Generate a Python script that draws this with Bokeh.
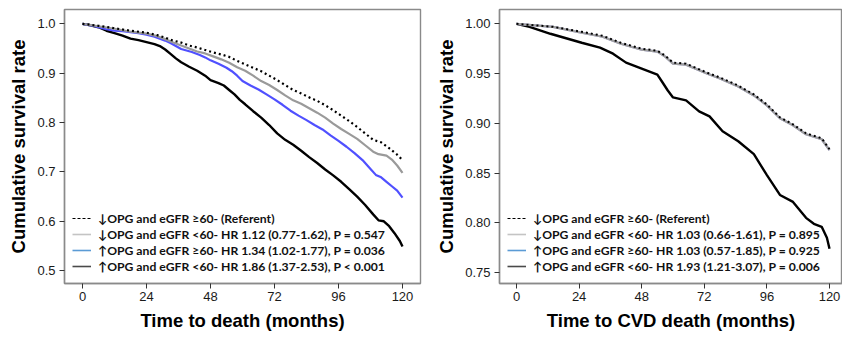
from bokeh.plotting import figure
from bokeh.layouts import row
from bokeh.models import Legend, LegendItem, FixedTicker, PrintfTickFormatter, Range1d
from bokeh.embed import file_html
from bokeh.resources import INLINE

NAN = float("nan")

# ---------------- data: left panel (all-cause death) ----------------
ref_t = [0, 6, 12, 18, 24, 28, 31, 34, 37, 40, 43, 46, 49, 52, 55, 58, 61, 64, 67, 70, 73, 76, 79, 82, 85, 88, 91, 94, 97, 100, 103, 106, 109, 112, 115, 118, 120]
ref_s = [1.0, 0.996, 0.991, 0.986, 0.982, 0.977, 0.972, 0.966, 0.962, 0.956, 0.952, 0.947, 0.942, 0.938, 0.933, 0.925, 0.918, 0.911, 0.904, 0.895, 0.886, 0.876, 0.866, 0.859, 0.851, 0.844, 0.835, 0.825, 0.814, 0.803, 0.791, 0.778, 0.765, 0.760, 0.748, 0.735, 0.724]

lo60_t = [0, 6, 12, 18, 24, 28, 31, 34, 37, 40, 43, 46, 49, 52, 55, 58, 61, 64, 67, 70, 73, 76, 79, 82, 85, 88, 91, 94, 97, 100, 103, 106, 109, 111, 114, 116, 118, 120]
lo60_s = [1.0, 0.995, 0.990, 0.984, 0.980, 0.975, 0.969, 0.962, 0.956, 0.950, 0.944, 0.940, 0.934, 0.928, 0.921, 0.912, 0.905, 0.895, 0.884, 0.876, 0.866, 0.855, 0.845, 0.838, 0.829, 0.820, 0.810, 0.798, 0.787, 0.777, 0.767, 0.754, 0.741, 0.736, 0.733, 0.725, 0.713, 0.698]

hi_ge60_t = [0, 3, 6, 9, 12, 15, 18, 21, 24, 27, 29, 31, 33, 35, 37, 39, 41, 44, 46, 48, 51, 54, 56, 58, 60, 63, 66, 69, 72, 75, 78, 81, 84, 87, 90, 93, 96, 99, 102, 105, 108, 110, 112, 114, 116, 118, 120]
hi_ge60_s = [1.0, 0.997, 0.993, 0.989, 0.986, 0.985, 0.983, 0.981, 0.978, 0.974, 0.970, 0.966, 0.961, 0.955, 0.949, 0.946, 0.943, 0.937, 0.932, 0.926, 0.919, 0.911, 0.904, 0.895, 0.884, 0.875, 0.867, 0.857, 0.847, 0.836, 0.824, 0.814, 0.805, 0.795, 0.786, 0.774, 0.763, 0.751, 0.738, 0.724, 0.706, 0.694, 0.689, 0.680, 0.671, 0.662, 0.648]

hi_lo60_t = [0, 3, 6, 9, 12, 15, 18, 21, 24, 27, 29, 31, 33, 35, 37, 40, 43, 46, 48, 51, 53, 55, 57, 59, 61, 64, 67, 70, 73, 76, 79, 82, 85, 88, 91, 94, 97, 100, 103, 106, 109, 111, 113, 115, 117, 119, 120]
hi_lo60_s = [1.0, 0.997, 0.993, 0.986, 0.981, 0.976, 0.970, 0.967, 0.963, 0.959, 0.955, 0.948, 0.939, 0.930, 0.922, 0.913, 0.905, 0.895, 0.886, 0.880, 0.875, 0.866, 0.857, 0.846, 0.837, 0.823, 0.810, 0.795, 0.778, 0.765, 0.755, 0.743, 0.730, 0.718, 0.705, 0.693, 0.680, 0.665, 0.650, 0.633, 0.614, 0.602, 0.600, 0.590, 0.576, 0.560, 0.549]

# ---------------- data: right panel (CVD death) ----------------
cvd_ref_t = [0, 14, 25, 33, 40, 48, 54, 57, 60, 65, 73, 78, 85, 91, 96, 101, 106, 111, 117, 120]
cvd_ref_s = [1.0, 0.997, 0.992, 0.988, 0.981, 0.975, 0.973, 0.968, 0.961, 0.960, 0.951, 0.946, 0.938, 0.929, 0.919, 0.906, 0.899, 0.890, 0.885, 0.874]
cvd_lo60_s = [1.0, 0.997, 0.991, 0.987, 0.980, 0.974, 0.972, 0.967, 0.960, 0.959, 0.950, 0.945, 0.937, 0.928, 0.918, 0.905, 0.898, 0.889, 0.884, 0.873]
cvd_hige60_s = [1.0, 0.997, 0.991, 0.987, 0.980, 0.974, 0.972, 0.967, 0.960, 0.959, 0.950, 0.945, 0.937, 0.928, 0.918, 0.905, 0.898, 0.889, 0.884, 0.873]

cvd_hilo_t = [0, 5, 13, 17, 25, 32, 37, 42, 48, 54, 56, 58, 60, 65, 70, 74, 79, 85, 91, 96, 101, 106, 111, 114, 117, 119, 120]
cvd_hilo_s = [1.0, 0.997, 0.990, 0.987, 0.981, 0.976, 0.970, 0.961, 0.955, 0.949, 0.941, 0.933, 0.926, 0.923, 0.912, 0.907, 0.892, 0.882, 0.869, 0.848, 0.828, 0.821, 0.805, 0.799, 0.796, 0.785, 0.774]

x_ticks = [0, 24, 48, 72, 96, 120]
y_ticks_left = [0.5, 0.6, 0.7, 0.8, 0.9, 1.0]
y_ticks_right = [0.75, 0.80, 0.85, 0.90, 0.95, 1.00]

legend_left = [
    "\u2193OPG and eGFR \u226560- (Referent)",
    "\u2193OPG and eGFR <60- HR 1.12 (0.77-1.62), P = 0.547",
    "\u2191OPG and eGFR \u226560- HR 1.34 (1.02-1.77), P = 0.036",
    "\u2191OPG and eGFR <60- HR 1.86 (1.37-2.53), P < 0.001",
]
legend_right = [
    "\u2193OPG and eGFR \u226560- (Referent)",
    "\u2193OPG and eGFR <60- HR 1.03 (0.66-1.61), P = 0.895",
    "\u2191OPG and eGFR \u226560- HR 1.03 (0.57-1.85), P = 0.925",
    "\u2191OPG and eGFR <60- HR 1.93 (1.21-3.07), P = 0.006",
]

AX = "#8a8a8a"
LEG_FONT = "Lato"


def make_fig(width, border_left, border_right, x_range, y_range, yticks, yfmt, xlabel):
    p = figure(width=width, height=337, output_backend="svg", toolbar_location=None,
               x_range=Range1d(*x_range), y_range=Range1d(*y_range),
               min_border_left=border_left, min_border_right=border_right,
               min_border_top=9, min_border_bottom=54)
    p.grid.visible = False
    p.outline_line_color = AX
    p.outline_line_width = 1.4
    p.background_fill_color = "white"
    p.border_fill_color = "white"
    for ax in (p.xaxis[0], p.yaxis[0]):
        ax.axis_line_color = AX
        ax.axis_line_width = 1.4
        ax.major_tick_line_color = "#333333"
        ax.major_tick_out = 5
        ax.major_tick_in = 0
        ax.minor_tick_out = 0
        ax.minor_tick_in = 0
        ax.major_label_text_font = "Liberation Sans"
        ax.major_label_text_font_size = "13px"
        ax.major_label_text_color = "#1a1a1a"
        ax.axis_label_text_font = "Liberation Sans"
        ax.axis_label_text_font_style = "bold"
        ax.axis_label_text_font_size = "18.5px"
        ax.axis_label_text_color = "#000000"
    p.xaxis[0].ticker = FixedTicker(ticks=x_ticks)
    p.yaxis[0].ticker = FixedTicker(ticks=yticks)
    p.yaxis[0].formatter = PrintfTickFormatter(format=yfmt)
    p.xaxis[0].major_label_standoff = 3
    p.yaxis[0].major_label_standoff = 4
    p.xaxis[0].axis_label_standoff = 6
    p.yaxis[0].axis_label_standoff = 5
    p.xaxis[0].axis_label = xlabel
    p.yaxis[0].axis_label = "Cumulative survival rate"
    return p


def add_legend(p, labels):
    r1 = p.line(x=[NAN], y=[NAN], line_color="#000000", line_width=1.2, line_dash="3 2")
    r2 = p.line(x=[NAN], y=[NAN], line_color="#c4c4c4", line_width=1.6)
    r3 = p.line(x=[NAN], y=[NAN], line_color="#5b9bd5", line_width=1.6)
    r4 = p.line(x=[NAN], y=[NAN], line_color="#4a4a4a", line_width=1.6)
    items = [LegendItem(label=lab, renderers=[r]) for lab, r in zip(labels, [r1, r2, r3, r4])]
    leg = Legend(items=items, location=(8, 9), orientation="vertical",
                 glyph_width=19, glyph_height=16, label_height=16, label_standoff=7,
                 spacing=0, padding=0, margin=0, border_line_color=None,
                 background_fill_alpha=0,
                 label_text_font=LEG_FONT, label_text_font_style="bold",
                 label_text_font_size="12.2px", label_text_color="#111111")
    p.add_layout(leg)


# left panel
p1 = make_fig(426, 64, 6, (-6.75, 126.75), (0.474, 1.029), y_ticks_left, "%.1f", "Time to death (months)")
p1.line(hi_lo60_t, hi_lo60_s, line_color="#000000", line_width=2.4)
p1.line(hi_ge60_t, hi_ge60_s, line_color="#5050ff", line_width=2.2)
p1.line(lo60_t, lo60_s, line_color="#9a9a9a", line_width=2.2)
p1.line(ref_t, ref_s, line_color="#000000", line_width=2.2, line_dash="2 3")
add_legend(p1, legend_left)

# right panel
p2 = make_fig(416, 73, 0, (-6.52, 124.98), (0.739, 1.0144), y_ticks_right, "%.2f", "Time to CVD death (months)")
p2.line(cvd_hilo_t, cvd_hilo_s, line_color="#000000", line_width=2.4)
p2.line(cvd_ref_t, cvd_hige60_s, line_color="#9a9ad8", line_width=2.2)
p2.line(cvd_ref_t, cvd_lo60_s, line_color="#a0a0a0", line_width=2.2)
p2.line(cvd_ref_t, cvd_ref_s, line_color="#000000", line_width=2.0, line_dash="2 3")
add_legend(p2, legend_right)

layout = row(p1, p2)
open("out.html", "w").write(file_html(layout, INLINE))
